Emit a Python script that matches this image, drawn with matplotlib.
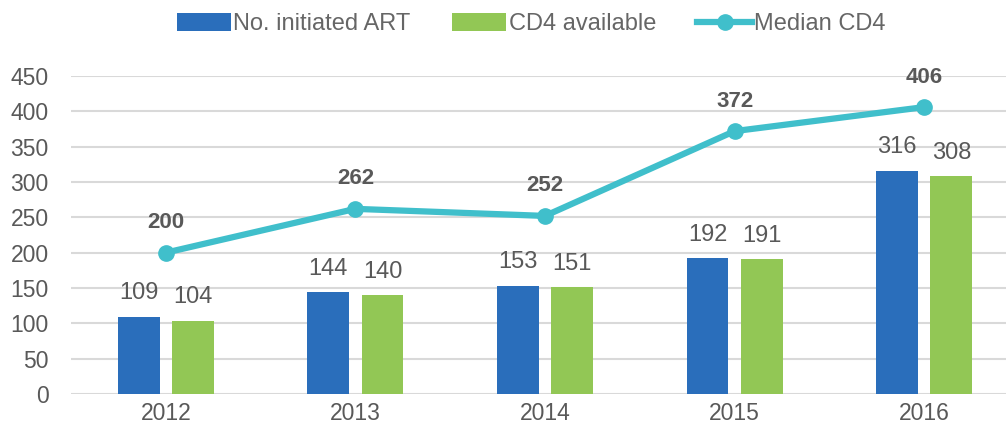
import numpy as np
import matplotlib.pyplot as plt

plt.rcParams['font.family'] = ['Liberation Sans', 'DejaVu Sans']

# Data
years = ['2012', '2013', '2014', '2015', '2016']
initiated_art = [109, 144, 153, 192, 316]
cd4_available = [104, 140, 151, 191, 308]
median_cd4 = [200, 262, 252, 372, 406]

blue = '#2a6ebb'
green = '#92c755'
teal = '#40bfcb'
grey = '#595959'

fig = plt.figure(figsize=(10.06, 4.33), dpi=100)
ax = fig.add_axes([71 / 1006, 1 - 394 / 433, 948 / 1006, 318 / 433])

x = np.arange(len(years))
w = 0.22
off = 0.143

b1 = ax.bar(x - off, initiated_art, w, color=blue, label='No. initiated ART', zorder=3)
b2 = ax.bar(x + off, cd4_available, w, color=green, label='CD4 available', zorder=3)
ln, = ax.plot(x, median_cd4, color=teal, lw=4.5, marker='o', ms=11,
              label='Median CD4', zorder=4)

for rects, vals in ((b1, initiated_art), (b2, cd4_available)):
    for r, v in zip(rects, vals):
        ax.annotate(str(v), (r.get_x() + r.get_width() / 2, v), xytext=(0, 9),
                    textcoords='offset points', ha='center', va='bottom',
                    fontsize=17, color=grey)

for xi, v in zip(x, median_cd4):
    ax.annotate(str(v), (xi, v), xytext=(0, 14), textcoords='offset points',
                ha='center', va='bottom', fontsize=16, fontweight='bold', color=grey)

ax.set_xlim(-0.5, len(years) - 0.5)
ax.set_ylim(0, 450)
ax.set_yticks(range(0, 451, 50))
ax.set_xticks(x)
ax.set_xticklabels(years)
ax.tick_params(axis='both', length=0, labelsize=16.5, labelcolor=grey)
ax.tick_params(axis='x', pad=6)
ax.tick_params(axis='y', pad=16)
ax.grid(axis='y', color='#d9d9d9', lw=1.5, zorder=0)
for s in ax.spines.values():
    s.set_visible(False)

fig.legend(handles=[b1, b2, ln], loc='center', bbox_to_anchor=(0.528, 0.944),
           ncol=3, frameon=False, fontsize=17, labelcolor='#666666',
           handlelength=2.3, handleheight=0.75, columnspacing=1.75, handletextpad=0.1)

fig.savefig('out.png', dpi=100)
